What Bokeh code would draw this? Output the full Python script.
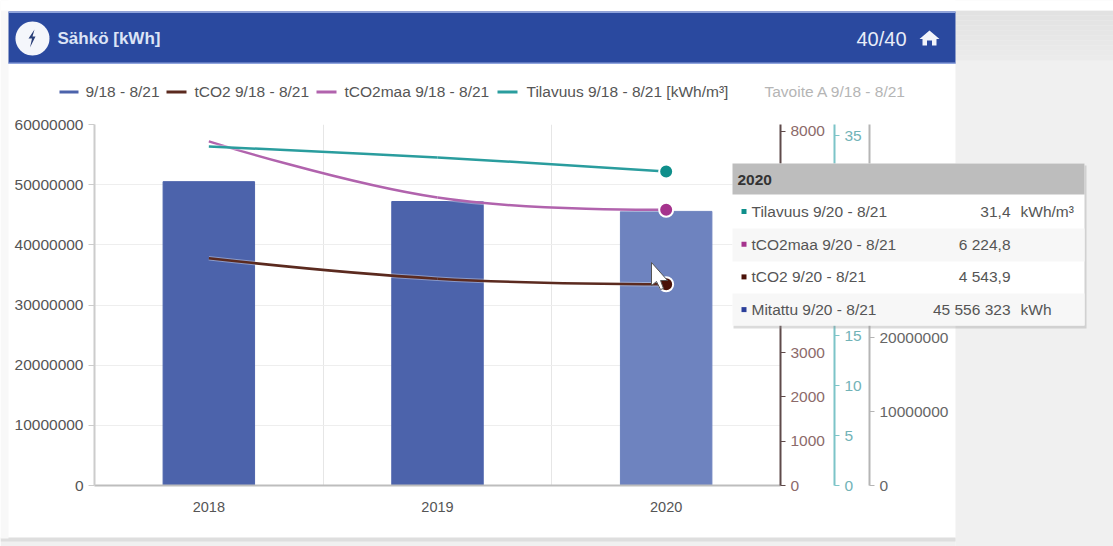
import math

from bokeh.embed import file_html
from bokeh.models import FixedTicker, Label, LinearAxis, Range1d
from bokeh.plotting import figure
from bokeh.resources import INLINE

# Yearly figures
years = ["2018", "2019", "2020"]
measured_kwh = [50500000, 47200000, 45556323]
tco2 = [5130, 4670, 4543.9]
tco2_land = [7770, 6500, 6224.8]
volume = [33.9, 32.8, 31.4]

legend_entries = ["9/18 - 8/21", "tCO2 9/18 - 8/21", "tCO2maa 9/18 - 8/21",
                  "Tilavuus 9/18 - 8/21 [kWh/m³]"]
muted_legend_entry = "Tavoite A 9/18 - 8/21"
tooltip_title = "2020"
tooltip_names = ["Tilavuus 9/20 - 8/21", "tCO2maa 9/20 - 8/21",
                 "tCO2 9/20 - 8/21", "Mitattu 9/20 - 8/21"]
tooltip_values = ["31,4", "6 224,8", "4 543,9", "45 556 323"]
tooltip_units = ["kWh/m³", "", "", "kWh"]

BLUE = "#4c63ab"
BLUE_HOVER = "#6e83bf"
BROWN = "#5b2a1f"
PURPLE = "#b163ad"
TEAL = "#2a9d9e"
FONT = "Liberation Sans"

p = figure(width=1113, height=546, output_backend="svg", toolbar_location=None,
           x_range=Range1d(0, 3), y_range=Range1d(0, 60000000),
           min_border_left=94, min_border_right=333, min_border_top=124,
           min_border_bottom=61, border_fill_color="white",
           background_fill_color="white", outline_line_color=None)

p.extra_y_ranges = {"co2": Range1d(0, 8150), "vol": Range1d(0, 36.1),
                    "kwh": Range1d(0, 48800000)}

# Bars: the hovered year is lighter
centres = [i + 0.5 for i in range(len(years))]
p.vbar(x=centres, top=measured_kwh, width=0.4,
       color=[BLUE, BLUE, BLUE_HOVER])


def spline_segments(xs, ys):
    """Cubic segments through the points, with the usual charting-spline handles."""
    handles = []
    for i in range(len(xs)):
        if i == 0 or i == len(xs) - 1:
            handles.append((xs[i], ys[i], xs[i], ys[i]))
            continue
        lx = (1.5 * xs[i] + xs[i - 1]) / 2.5
        ly = (1.5 * ys[i] + ys[i - 1]) / 2.5
        rx = (1.5 * xs[i] + xs[i + 1]) / 2.5
        ry = (1.5 * ys[i] + ys[i + 1]) / 2.5
        shift = (ry - ly) * (rx - xs[i]) / (rx - lx) + ys[i] - ry
        handles.append((lx, ly + shift, rx, ry + shift))
    return dict(
        x0=xs[:-1], y0=ys[:-1], x1=xs[1:], y1=ys[1:],
        cx0=[h[2] for h in handles[:-1]], cy0=[h[3] for h in handles[:-1]],
        cx1=[h[0] for h in handles[1:]], cy1=[h[1] for h in handles[1:]],
    )


for series, colour, marker, rng in [(tco2, BROWN, "#4a1208", "co2"),
                                    (tco2_land, PURPLE, "#a5338d", "co2"),
                                    (volume, TEAL, "#0f8f8b", "vol")]:
    seg = spline_segments(centres, series)
    p.bezier(line_color="white", line_width=4.5, line_alpha=0.35,
             y_range_name=rng, **seg)
    p.bezier(line_color=colour, line_width=2.5, y_range_name=rng, **seg)
    p.scatter([centres[-1]], [series[-1]], size=14, marker="circle",
              fill_color=marker, line_color="white", line_width=2,
              y_range_name=rng)

# Axes
p.xaxis.ticker = FixedTicker(ticks=centres)
p.xaxis.major_label_overrides = {c: y for c, y in zip(centres, years)}
p.xaxis.major_tick_line_color = None
p.xaxis.minor_tick_line_color = None
p.xaxis.axis_line_color = "#bdbdbd"
p.xaxis.axis_line_width = 2
p.xaxis.major_label_text_font = FONT
p.xaxis.major_label_text_font_size = "14.5px"
p.xaxis.major_label_text_color = "#555555"
p.xaxis.major_label_standoff = 10

left_ticker = FixedTicker(ticks=[0, 10000000, 20000000, 30000000, 40000000,
                                 50000000, 60000000])
p.yaxis.ticker = left_ticker
p.yaxis.formatter.use_scientific = False
p.yaxis.minor_tick_line_color = None
p.yaxis.major_tick_in = 0
p.yaxis.major_tick_out = 6
p.yaxis.major_tick_line_color = "#cccccc"
p.yaxis.axis_line_color = "#cccccc"
p.yaxis.axis_line_width = 2
p.yaxis.major_label_text_font = FONT
p.yaxis.major_label_text_font_size = "15.5px"
p.yaxis.major_label_text_color = "#555555"
p.yaxis.major_label_standoff = 5

p.xgrid.ticker = FixedTicker(ticks=[1, 2])
p.xgrid.grid_line_color = "#e6e6e6"
p.ygrid.grid_line_color = "#eeeeee"
p.ygrid.ticker = left_ticker


def right_axis(rng, ticks, line, text_colour, padding):
    ax = LinearAxis(y_range_name=rng, ticker=FixedTicker(ticks=ticks),
                    axis_line_color=line, axis_line_width=2,
                    major_tick_line_color=line, major_tick_in=0,
                    major_tick_out=5, minor_tick_line_color=None,
                    major_label_text_color=text_colour, major_label_text_font=FONT,
                    major_label_text_font_size="15.5px",
                    major_label_standoff=5,
                    axis_label=" ", axis_label_standoff=padding,
                    axis_label_text_font_size="1px")
    ax.formatter.use_scientific = False
    p.add_layout(ax, "right")


right_axis("co2", list(range(0, 8001, 1000)), "#5f4a4a", "#8c6a6a", 2)
right_axis("vol", list(range(0, 36, 5)), "#7cc4c8", "#72b3b7", 1)
right_axis("kwh", list(range(0, 40000001, 10000000)), "#b5b5b5", "#666666", 0)

# Transparent sheet over the chart for the page furniture, the legend and the tooltip
sheet = figure(frame_width=1113, frame_height=546, output_backend="svg",
               toolbar_location=None,
               x_range=Range1d(0, 1113), y_range=Range1d(546, 0),
               x_axis_location=None, y_axis_location=None,
               min_border_left=0, min_border_right=0, min_border_top=0,
               min_border_bottom=0, border_fill_color=None,
               background_fill_color=None, outline_line_color=None)
sheet.grid.visible = False
sheet.styles = {"position": "absolute", "top": "0px", "left": "0px"}


def box(left, top, right, bottom, colour, alpha=1.0):
    sheet.quad(left=[left], right=[right], top=[top], bottom=[bottom],
               fill_color=colour, fill_alpha=alpha, line_color=None)


def text(x, y, s, size=14, colour="#555555", align="left", style="normal"):
    sheet.add_layout(Label(x=x, y=y, text=s,
                           text_font=FONT, text_font_size=f"{size}px",
                           text_color=colour, text_align=align,
                           text_baseline="middle", text_font_style=style,
                           level="overlay"))


def poly(xs, ys, colour, outline=None):
    sheet.patch(xs, ys, fill_color=colour, line_color=outline)


# Page around the card
box(955, 0, 1113, 546, "#f0f0f0")
box(0, 538, 955, 546, "#f0f0f0")
box(0, 537, 955, 541, "#dedede")
for i in range(10):
    shade = 226 + i
    box(955, 10 + i * 5, 1113, 15 + i * 5, f"#{shade:02x}{shade:02x}{shade:02x}")
box(0, 0, 8, 538, "#f8f8f8")
box(0, 0, 1113, 10, "#ffffff")

# Header band
box(8, 11, 955, 63, "#2a499f")
box(8, 11, 955, 12.5, "#8fa4dd")
box(8, 62, 955, 63.5, "#8fa4dd")
ring = [i * 2 * math.pi / 48 for i in range(48)]
poly([32 + 17 * math.cos(a) for a in ring], [38 + 17 * math.sin(a) for a in ring], "#f4f6fb")
poly([34, 28, 31.5, 29.5, 35, 32], [29, 38, 38, 47, 36, 36], "#2a3f78")
text(57, 38, "Sähkö [kWh]", 17, "#dce4f6", style="bold")
text(906, 38, "40/40", 20, "#e8edf8", "right")
poly([929, 939, 936, 936, 931.5, 931.5, 926.5, 926.5, 922, 922, 919],
     [30, 38.5, 38.5, 45, 45, 40, 40, 45, 45, 38.5, 38.5], "#f2f4fa")

# Legend
for (l, r, colour), label, x in zip(
        [(59, 78, BLUE), (166, 186, BROWN), (316, 336, PURPLE), (497, 517, TEAL)],
        legend_entries, [85, 194, 344, 526]):
    box(l, 90, r, 93, colour)
    text(x, 91, label, 15.5)
text(764, 91, muted_legend_entry, 15.5, "#b5b5b5")

# Hover pointer
poly([651, 651, 656, 660, 663, 660, 667], [262, 285, 281, 289, 288, 280, 280],
     "#ffffff", "#555555")

# Tooltip
box(733, 165, 1086, 328, "#999999", 0.35)
box(732, 163, 1084, 325, "#ffffff")
box(732, 163, 1084, 194, "#bdbdbd")
box(732, 228, 1084, 261, "#f7f7f7")
box(732, 293, 1084, 325, "#f7f7f7")
text(737, 179, tooltip_title, 15.5, "#333333", style="bold")
bullet_colours = ["#0f8f8b", "#a5338d", "#4a1208", "#2b3f9a"]
for i, (name, val, unit) in enumerate(zip(tooltip_names, tooltip_values, tooltip_units)):
    y = 211 + i * 32.7
    box(741, y - 2.5, 746, y + 2.5, bullet_colours[i])
    text(751, y, name, 15.5)
    text(1010, y, val, 15.5, align="right")
    if unit:
        text(1020, y, unit, 15.5)

open("out.html", "w").write(file_html([p, sheet], INLINE))
